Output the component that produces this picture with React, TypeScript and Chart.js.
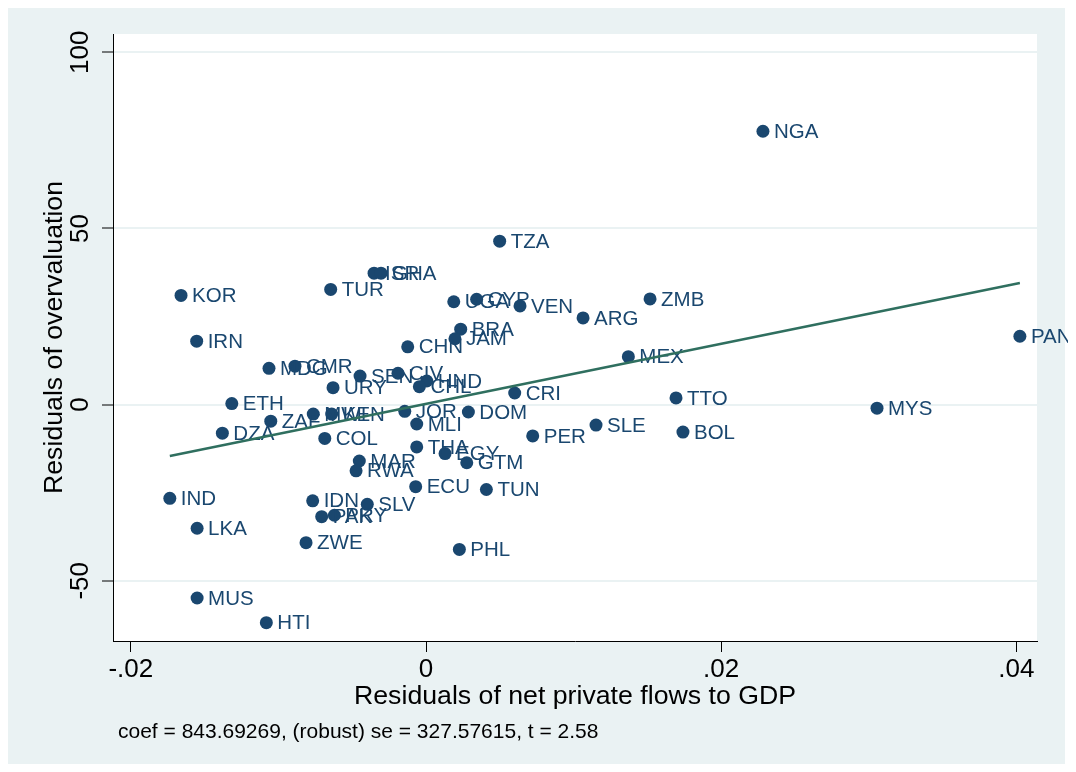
import React, { useEffect, useRef } from "react";
import { Chart, registerables } from "chart.js";

Chart.register(...registerables);

// ---- data ----
const countries = [
  "KOR", "IRN", "TUR", "ISR", "GHA", "UGA", "CYP", "VEN", "BRA", "JAM",
  "CHN", "MDG", "CMR", "SEN", "CIV", "HND", "CHL", "URY", "ETH", "ZAF",
  "MWI", "KEN", "DZA", "COL", "JOR", "MLI", "DOM", "CRI", "ARG", "ZMB",
  "TZA", "MEX", "TTO", "THA", "EGY", "GTM", "PER", "MAR", "RWA", "ECU",
  "TUN", "IND", "IDN", "SLV", "PAK", "PRY", "LKA", "ZWE", "PHL", "MUS",
  "HTI", "NGA", "PAN", "MYS", "BOL", "SLE",
];
const netPrivateFlows = [
  -0.0166, -0.01554, -0.00646, -0.00352, -0.00305, 0.00188, 0.00343, 0.00637, 0.00235, 0.00196,
  -0.00124, -0.01064, -0.00888, -0.00447, -0.0019, 0.00005, -0.00045, -0.0063, -0.01316, -0.01052,
  -0.00764, -0.00639, -0.0138, -0.00686, -0.00144, -0.00063, 0.00287, 0.00601, 0.01064, 0.01518,
  0.00499, 0.01371, 0.01694, -0.00063, 0.00129, 0.00276, 0.00723, -0.00452, -0.00474, -0.0007,
  0.00409, -0.01736, -0.00768, -0.00398, -0.00707, -0.00621, -0.01551, -0.00813, 0.00226, -0.01551,
  -0.01082, 0.02283, 0.04024, 0.03056, 0.01741, 0.01152,
];
const overvaluation = [
  31.0, 18.0, 32.7, 37.3, 37.3, 29.2, 29.9, 28.0, 21.4, 18.7,
  16.4, 10.3, 10.9, 8.1, 8.9, 6.7, 5.1, 4.8, 0.3, -4.7,
  -2.7, -2.7, -8.1, -9.6, -1.9, -5.5, -2.1, 3.3, 24.6, 30.0,
  46.4, 13.6, 1.9, -12.0, -13.9, -16.5, -8.9, -16.0, -18.8, -23.3,
  -24.1, -26.6, -27.3, -28.3, -31.8, -31.4, -35.1, -39.2, -41.1, -54.9,
  -61.9, 77.6, 19.4, -1.0, -7.8, -5.8,
];
const fitX = [-0.01736, 0.04024];
const fitY = [-14.6, 34.5];

const xTicks = [-0.02, 0, 0.02, 0.04];
const xTickLabels = ["-.02", "0", ".02", ".04"];
const yTicks = [-50, 0, 50, 100];
const yTickLabels = ["-50", "0", "50", "100"];

const xTitle = "Residuals of net private flows to GDP";
const yTitle = "Residuals of overvaluation";
const note = "coef = 843.69269, (robust) se = 327.57615, t = 2.58";

// ---- styling ----
const W = 1068; // canvas (labels may spill past the graph background)
const BG_W = 1057; // graph background width
const H = 756;
const FONT = '"Liberation Sans", Arial, Helvetica, sans-serif';
const OUTER_BG = "#EAF2F3";
const MARKER = "#1a476f";
const FIT = "#2f6f5f";

const bgPlugin = {
  id: "stataBg",
  beforeDraw(chart: any) {
    const { ctx, chartArea: a } = chart;
    ctx.save();
    ctx.fillStyle = OUTER_BG;
    ctx.fillRect(0, 0, BG_W, chart.height);
    ctx.fillStyle = "#ffffff";
    ctx.fillRect(a.left, a.top, a.right - a.left, a.bottom - a.top);
    ctx.restore();
  },
};

const pointLabelPlugin = {
  id: "pointLabels",
  afterDatasetDraw(chart: any, args: any) {
    if (args.index !== 0) return;
    const meta = chart.getDatasetMeta(0);
    const ctx = chart.ctx;
    ctx.save();
    ctx.font = `20.5px ${FONT}`;
    ctx.fillStyle = MARKER;
    ctx.textAlign = "left";
    ctx.textBaseline = "middle";
    meta.data.forEach((el: any, i: number) => {
      ctx.fillText(countries[i], el.x + 11, el.y + 1);
    });
    ctx.restore();
  },
};

const axisTextPlugin = {
  id: "axisText",
  afterDraw(chart: any) {
    const { ctx } = chart;
    const ys = chart.scales.y;
    ctx.save();
    ctx.fillStyle = "#000";
    ctx.font = `26px ${FONT}`;
    ctx.textAlign = "center";
    ctx.textBaseline = "middle";
    yTicks.forEach((v, i) => {
      const py = ys.getPixelForValue(v);
      ctx.save();
      ctx.translate(ys.right - 32, py);
      ctx.rotate(-Math.PI / 2);
      ctx.fillText(yTickLabels[i], 0, 0);
      ctx.restore();
    });
    ctx.font = `21px ${FONT}`;
    ctx.textAlign = "left";
    ctx.fillText(note, 110, 724);
    ctx.restore();
  },
};

export default function App() {
  const ref = useRef<HTMLCanvasElement | null>(null);

  useEffect(() => {
    if (!ref.current) return;
    const chart = new Chart(ref.current, {
      type: "scatter",
      data: {
        datasets: [
          {
            data: netPrivateFlows.map((x, i) => ({ x, y: overvaluation[i] })),
            pointBackgroundColor: MARKER,
            pointBorderColor: MARKER,
            pointBorderWidth: 0,
            pointRadius: 6.5,
            pointHoverRadius: 6.5,
            showLine: false,
            order: 2,
          } as any,
          {
            data: fitX.map((x, i) => ({ x, y: fitY[i] })),
            borderColor: FIT,
            borderWidth: 2.5,
            pointRadius: 0,
            showLine: true,
            fill: false,
            order: 1,
          } as any,
        ],
      },
      options: {
        animation: false,
        responsive: false,
        devicePixelRatio: 1,
        events: [],
        layout: { padding: { left: 0, top: 26, right: W - 1029, bottom: 0 } },
        plugins: {
          legend: { display: false },
          tooltip: { enabled: false },
        },
        scales: {
          x: {
            type: "linear",
            position: "bottom",
            min: -0.02121,
            max: 0.0414,
            afterBuildTicks: (s: any) => {
              s.ticks = xTicks.map((v) => ({ value: v }));
            },
            afterFit: (s: any) => {
              s.height = H - 633;
            },
            grid: {
              drawOnChartArea: false,
              drawTicks: true,
              tickLength: 11,
              tickColor: "#000",
              tickWidth: 1,
            },
            border: { display: true, color: "#000", width: 1 },
            ticks: {
              color: "#000",
              font: { family: FONT, size: 26 },
              padding: 2,
              maxRotation: 0,
              minRotation: 0,
              autoSkip: false,
              callback: (_v: any, i: number) => xTickLabels[i],
            },
            title: {
              display: true,
              text: xTitle,
              color: "#000",
              font: { family: FONT, size: 26.7 },
              padding: { top: 0, bottom: 51 },
            },
          },
          y: {
            type: "linear",
            position: "left",
            min: -67.1,
            max: 105.2,
            afterBuildTicks: (s: any) => {
              s.ticks = yTicks.map((v) => ({ value: v }));
            },
            afterFit: (s: any) => {
              s.width = 105;
            },
            grid: {
              color: OUTER_BG,
              lineWidth: 2,
              drawTicks: true,
              tickLength: 11,
              tickColor: "#000",
              tickWidth: 1,
            },
            border: { display: true, color: "#000", width: 1 },
            ticks: { display: false },
            title: {
              display: true,
              text: yTitle,
              color: "#000",
              font: { family: FONT, size: 26.7 },
              padding: { top: 31, bottom: 0 },
            },
          },
        },
      } as any,
      plugins: [bgPlugin, pointLabelPlugin, axisTextPlugin],
    });
    return () => chart.destroy();
  }, []);

  return (
    <canvas
      ref={ref}
      width={W}
      height={H}
      style={{ display: "block", width: W, height: H }}
    />
  );
}
